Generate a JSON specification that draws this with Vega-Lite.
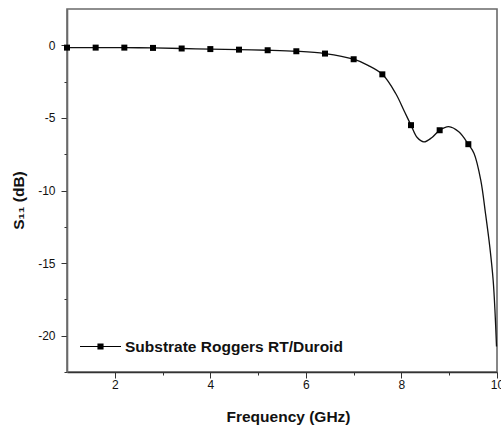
{
  "$schema": "https://vega.github.io/schema/vega-lite/v6.json",
  "width": 430,
  "height": 363,
  "autosize": "none",
  "padding": {"left": 67, "top": 9, "right": 4, "bottom": 54},
  "background": "white",
  "title": {
    "text": "by the simulation results.",
    "font": "Liberation Serif",
    "fontSize": 24,
    "fontWeight": "normal",
    "color": "black",
    "anchor": "start",
    "baseline": "alphabetic",
    "offset": 7,
    "dx": -62
  },
  "config": {
    "view": {"stroke": "#6a6a6a", "strokeWidth": 1.6},
    "axis": {
      "labelFont": "Liberation Sans",
      "labelFontSize": 12,
      "labelColor": "#111",
      "titleFont": "Liberation Sans",
      "titleFontSize": 15.5,
      "titleFontWeight": "bold",
      "titleColor": "#111",
      "domainColor": "#333",
      "tickColor": "#333",
      "grid": false
    }
  },
  "datasets": {
    "curve": [
      {"f": 1.0, "s": -0.16}, {"f": 1.6, "s": -0.16}, {"f": 2.2, "s": -0.16},
      {"f": 2.8, "s": -0.18}, {"f": 3.4, "s": -0.22}, {"f": 4.0, "s": -0.26},
      {"f": 4.6, "s": -0.30}, {"f": 5.2, "s": -0.34}, {"f": 5.8, "s": -0.41},
      {"f": 6.4, "s": -0.57}, {"f": 7.0, "s": -0.96}, {"f": 7.3, "s": -1.38},
      {"f": 7.6, "s": -2.0}, {"f": 7.88, "s": -3.32}, {"f": 8.05, "s": -4.47},
      {"f": 8.2, "s": -5.5}, {"f": 8.33, "s": -6.35}, {"f": 8.47, "s": -6.65},
      {"f": 8.64, "s": -6.35}, {"f": 8.8, "s": -5.85}, {"f": 8.99, "s": -5.6},
      {"f": 9.2, "s": -5.96}, {"f": 9.4, "s": -6.81}, {"f": 9.52, "s": -7.45},
      {"f": 9.66, "s": -9.28}, {"f": 9.76, "s": -11.6}, {"f": 9.85, "s": -13.9},
      {"f": 9.92, "s": -16.2}, {"f": 9.96, "s": -18.45}, {"f": 9.99, "s": -20.75}
    ],
    "markers": [
      {"f": 1.0, "s": -0.16, "series": "Substrate Roggers RT/Duroid"},
      {"f": 1.6, "s": -0.16, "series": "Substrate Roggers RT/Duroid"},
      {"f": 2.2, "s": -0.16, "series": "Substrate Roggers RT/Duroid"},
      {"f": 2.8, "s": -0.18, "series": "Substrate Roggers RT/Duroid"},
      {"f": 3.4, "s": -0.22, "series": "Substrate Roggers RT/Duroid"},
      {"f": 4.0, "s": -0.26, "series": "Substrate Roggers RT/Duroid"},
      {"f": 4.6, "s": -0.30, "series": "Substrate Roggers RT/Duroid"},
      {"f": 5.2, "s": -0.34, "series": "Substrate Roggers RT/Duroid"},
      {"f": 5.8, "s": -0.41, "series": "Substrate Roggers RT/Duroid"},
      {"f": 6.4, "s": -0.57, "series": "Substrate Roggers RT/Duroid"},
      {"f": 7.0, "s": -0.96, "series": "Substrate Roggers RT/Duroid"},
      {"f": 7.6, "s": -2.0, "series": "Substrate Roggers RT/Duroid"},
      {"f": 8.2, "s": -5.5, "series": "Substrate Roggers RT/Duroid"},
      {"f": 8.8, "s": -5.85, "series": "Substrate Roggers RT/Duroid"},
      {"f": 9.4, "s": -6.81, "series": "Substrate Roggers RT/Duroid"}
    ]
  },
  "layer": [
    {
      "data": {"name": "curve"},
      "mark": {"type": "line", "interpolate": "catmull-rom", "color": "#111", "strokeWidth": 1.3},
      "encoding": {
        "x": {
          "field": "f", "type": "quantitative",
          "scale": {"domain": [1, 10], "nice": false, "zero": false},
          "axis": {
            "title": "Frequency (GHz)",
            "values": [2, 3, 4, 5, 6, 7, 8, 9, 10],
            "labelExpr": "datum.value % 2 == 0 ? '' + datum.value : ''",
            "tickSize": {"condition": {"test": "datum.value % 2 == 1", "value": 3}, "value": 6},
            "labelPadding": 1,
            "labelOverlap": false,
            "labelBound": false,
            "labelFlush": false,
            "titleX": 221,
            "titleY": 44,
            "titleBaseline": "middle",
            "titleAlign": "center",
            "titleAnchor": null,
            "domainWidth": 1.3
          }
        },
        "y": {
          "field": "s", "type": "quantitative",
          "scale": {"domain": [-22.5, 2.5], "nice": false, "zero": false},
          "axis": {
            "title": "S₁₁ (dB)",
            "values": [-22.5, -20, -17.5, -15, -12.5, -10, -7.5, -5, -2.5, 0],
            "labelExpr": "datum.value % 5 == 0 ? '' + datum.value : ''",
            "tickSize": {"condition": {"test": "datum.value % 5 != 0", "value": 3}, "value": 6},
            "labelPadding": 6,
            "labelOverlap": false,
            "labelBound": false,
            "labelFlush": false,
            "titleX": -49,
            "titleY": 191,
            "titleAngle": -90,
            "titleBaseline": "middle",
            "titleAlign": "center",
            "titleAnchor": null,
            "domainWidth": 1.6,
            "domainColor": "#6a6a6a"
          }
        }
      }
    },
    {
      "data": {"name": "markers"},
      "mark": {"type": "point", "shape": "square", "filled": true, "size": 36, "opacity": 1, "clip": false},
      "encoding": {
        "x": {"field": "f", "type": "quantitative"},
        "y": {"field": "s", "type": "quantitative"},
        "color": {
          "field": "series", "type": "nominal",
          "scale": {"range": ["#000000"]},
          "legend": {
            "title": null,
            "orient": "none",
            "legendX": -17,
            "legendY": 316,
            "padding": 0,
            "symbolOffset": 29,
            "symbolType": "M -1 0 L 1 0 M -0.12 -0.12 L 0.12 -0.12 L 0.12 0.12 L -0.12 0.12 Z",
            "symbolSize": 1681,
            "symbolStrokeColor": "#000000",
            "symbolStrokeWidth": 1.2,
            "labelFont": "Liberation Sans",
            "labelFontWeight": "bold",
            "labelFontSize": 15.5,
            "labelColor": "#111",
            "labelOffset": 3,
            "labelLimit": 400,
            "encode": {
              "symbols": {
                "update": {
                  "fill": {"value": "#000000"},
                  "stroke": {"value": "#000000"},
                  "strokeOpacity": {"value": 1},
                  "strokeWidth": {"value": 1.2},
                  "opacity": {"value": 1}
                }
              }
            }
          }
        }
      }
    }
  ]
}
